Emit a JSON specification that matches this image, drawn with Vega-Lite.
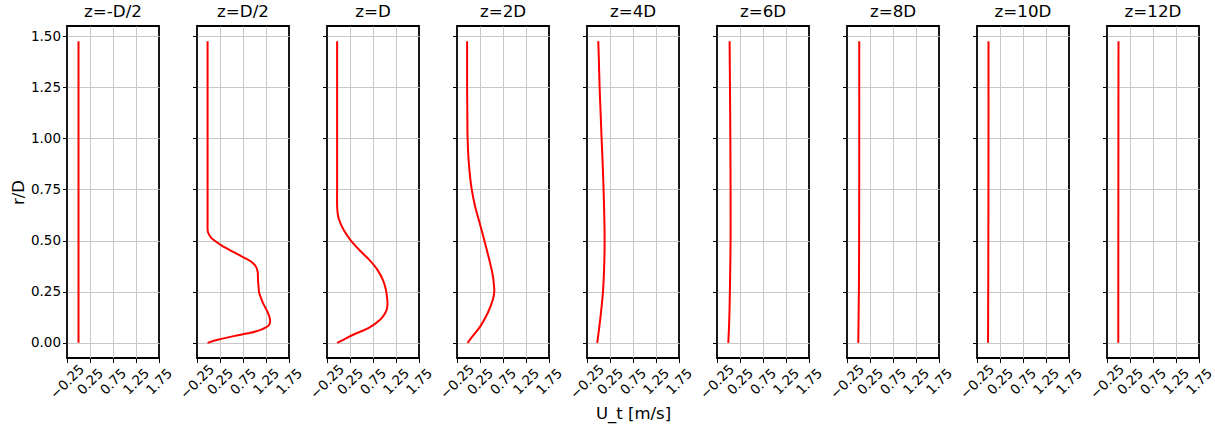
{
  "$schema": "https://vega.github.io/schema/vega-lite/v6.json",
  "padding": {"left": 9, "top": 3, "right": 0, "bottom": 0},
  "spacing": 38,
  "bounds": "flush",
  "data": {"values": [
    {"z": "z=-D/2", "r": 0, "U": 0}, {"z": "z=-D/2", "r": 0.5, "U": 0}, {"z": "z=-D/2", "r": 1.0, "U": 0}, {"z": "z=-D/2", "r": 1.475, "U": 0},

    {"z": "z=D/2", "r": 0, "U": -0.02}, {"z": "z=D/2", "r": 0.016, "U": 0.22}, {"z": "z=D/2", "r": 0.033, "U": 0.55},
    {"z": "z=D/2", "r": 0.049, "U": 0.91}, {"z": "z=D/2", "r": 0.066, "U": 1.16}, {"z": "z=D/2", "r": 0.085, "U": 1.31},
    {"z": "z=D/2", "r": 0.107, "U": 1.34}, {"z": "z=D/2", "r": 0.13, "U": 1.32}, {"z": "z=D/2", "r": 0.148, "U": 1.29},
    {"z": "z=D/2", "r": 0.175, "U": 1.23}, {"z": "z=D/2", "r": 0.197, "U": 1.18}, {"z": "z=D/2", "r": 0.22, "U": 1.14},
    {"z": "z=D/2", "r": 0.246, "U": 1.1}, {"z": "z=D/2", "r": 0.27, "U": 1.09}, {"z": "z=D/2", "r": 0.295, "U": 1.08},
    {"z": "z=D/2", "r": 0.32, "U": 1.075}, {"z": "z=D/2", "r": 0.344, "U": 1.07}, {"z": "z=D/2", "r": 0.369, "U": 1.04},
    {"z": "z=D/2", "r": 0.393, "U": 0.95}, {"z": "z=D/2", "r": 0.418, "U": 0.76}, {"z": "z=D/2", "r": 0.443, "U": 0.55},
    {"z": "z=D/2", "r": 0.475, "U": 0.29}, {"z": "z=D/2", "r": 0.5, "U": 0.13}, {"z": "z=D/2", "r": 0.516, "U": 0.05},
    {"z": "z=D/2", "r": 0.541, "U": -0.01}, {"z": "z=D/2", "r": 0.557, "U": -0.02}, {"z": "z=D/2", "r": 0.58, "U": -0.02},
    {"z": "z=D/2", "r": 0.75, "U": -0.02}, {"z": "z=D/2", "r": 1.0, "U": -0.02}, {"z": "z=D/2", "r": 1.25, "U": -0.02},
    {"z": "z=D/2", "r": 1.475, "U": -0.02},

    {"z": "z=D", "r": 0, "U": -0.03}, {"z": "z=D", "r": 0.016, "U": 0.11}, {"z": "z=D", "r": 0.041, "U": 0.33},
    {"z": "z=D", "r": 0.073, "U": 0.66}, {"z": "z=D", "r": 0.114, "U": 0.91}, {"z": "z=D", "r": 0.14, "U": 1.0},
    {"z": "z=D", "r": 0.163, "U": 1.05}, {"z": "z=D", "r": 0.19, "U": 1.065}, {"z": "z=D", "r": 0.212, "U": 1.06},
    {"z": "z=D", "r": 0.261, "U": 1.03}, {"z": "z=D", "r": 0.31, "U": 0.96}, {"z": "z=D", "r": 0.359, "U": 0.84},
    {"z": "z=D", "r": 0.408, "U": 0.66}, {"z": "z=D", "r": 0.457, "U": 0.44}, {"z": "z=D", "r": 0.5, "U": 0.27},
    {"z": "z=D", "r": 0.538, "U": 0.15}, {"z": "z=D", "r": 0.571, "U": 0.07}, {"z": "z=D", "r": 0.604, "U": 0.01},
    {"z": "z=D", "r": 0.636, "U": -0.02}, {"z": "z=D", "r": 0.67, "U": -0.03}, {"z": "z=D", "r": 0.75, "U": -0.03},
    {"z": "z=D", "r": 1.0, "U": -0.03}, {"z": "z=D", "r": 1.475, "U": -0.03},

    {"z": "z=2D", "r": 0, "U": -0.02}, {"z": "z=2D", "r": 0.033, "U": 0.09}, {"z": "z=2D", "r": 0.082, "U": 0.26},
    {"z": "z=2D", "r": 0.147, "U": 0.42}, {"z": "z=2D", "r": 0.212, "U": 0.53}, {"z": "z=2D", "r": 0.25, "U": 0.56},
    {"z": "z=2D", "r": 0.29, "U": 0.55}, {"z": "z=2D", "r": 0.327, "U": 0.53}, {"z": "z=2D", "r": 0.408, "U": 0.45},
    {"z": "z=2D", "r": 0.5, "U": 0.345}, {"z": "z=2D", "r": 0.588, "U": 0.24}, {"z": "z=2D", "r": 0.67, "U": 0.14},
    {"z": "z=2D", "r": 0.75, "U": 0.07}, {"z": "z=2D", "r": 0.8, "U": 0.04}, {"z": "z=2D", "r": 0.9, "U": 0.0},
    {"z": "z=2D", "r": 1.0, "U": -0.02}, {"z": "z=2D", "r": 1.1, "U": -0.025}, {"z": "z=2D", "r": 1.25, "U": -0.03},
    {"z": "z=2D", "r": 1.475, "U": -0.03},

    {"z": "z=4D", "r": 0, "U": -0.027}, {"z": "z=4D", "r": 0.132, "U": 0.046}, {"z": "z=4D", "r": 0.25, "U": 0.097},
    {"z": "z=4D", "r": 0.392, "U": 0.126}, {"z": "z=4D", "r": 0.5, "U": 0.133}, {"z": "z=4D", "r": 0.62, "U": 0.126},
    {"z": "z=4D", "r": 0.75, "U": 0.11}, {"z": "z=4D", "r": 0.88, "U": 0.09}, {"z": "z=4D", "r": 1.0, "U": 0.067},
    {"z": "z=4D", "r": 1.124, "U": 0.046}, {"z": "z=4D", "r": 1.25, "U": 0.024}, {"z": "z=4D", "r": 1.367, "U": 0.01},
    {"z": "z=4D", "r": 1.475, "U": -0.005},

    {"z": "z=6D", "r": 0, "U": -0.005}, {"z": "z=6D", "r": 0.1, "U": 0.015}, {"z": "z=6D", "r": 0.25, "U": 0.03},
    {"z": "z=6D", "r": 0.5, "U": 0.045}, {"z": "z=6D", "r": 0.75, "U": 0.045}, {"z": "z=6D", "r": 1.0, "U": 0.04},
    {"z": "z=6D", "r": 1.25, "U": 0.032}, {"z": "z=6D", "r": 1.475, "U": 0.024},

    {"z": "z=8D", "r": 0, "U": -0.005}, {"z": "z=8D", "r": 0.25, "U": 0.008}, {"z": "z=8D", "r": 0.5, "U": 0.014},
    {"z": "z=8D", "r": 1.0, "U": 0.016}, {"z": "z=8D", "r": 1.475, "U": 0.016},

    {"z": "z=10D", "r": 0, "U": -0.01}, {"z": "z=10D", "r": 0.5, "U": -0.003}, {"z": "z=10D", "r": 1.0, "U": 0.0},
    {"z": "z=10D", "r": 1.475, "U": 0.0},

    {"z": "z=12D", "r": 0, "U": -0.005}, {"z": "z=12D", "r": 0.75, "U": -0.003}, {"z": "z=12D", "r": 1.475, "U": 0.0}
  ]},
  "hconcat": [
    {"width": 92, "height": 332, "title": "z=-D/2", "transform": [{"filter": "datum.z == 'z=-D/2'"}],
     "mark": {"type": "line", "color": "#ff0000", "strokeWidth": 2, "interpolate": "catmull-rom"},
     "encoding": {
       "x": {"field": "U", "type": "quantitative", "scale": {"domain": [-0.25, 1.75], "nice": false, "zero": false}, "axis": {"values": [-0.25, 0.25, 0.75, 1.25, 1.75], "format": ".2f", "title": null, "gridOpacity": {"condition": {"test": "datum.value < 0 || datum.value > 1.5", "value": 0}, "value": 1}}},
       "y": {"field": "r", "type": "quantitative", "scale": {"domain": [-0.074, 1.549], "nice": false, "zero": false}, "axis": {"values": [0, 0.25, 0.5, 0.75, 1.0, 1.25, 1.5], "format": ".2f", "title": "r/D"}},
       "order": {"field": "r", "type": "quantitative"}}},
    {"width": 92, "height": 332, "title": "z=D/2", "transform": [{"filter": "datum.z == 'z=D/2'"}],
     "mark": {"type": "line", "color": "#ff0000", "strokeWidth": 2, "interpolate": "catmull-rom"},
     "encoding": {
       "x": {"field": "U", "type": "quantitative", "scale": {"domain": [-0.25, 1.75], "nice": false, "zero": false}, "axis": {"values": [-0.25, 0.25, 0.75, 1.25, 1.75], "format": ".2f", "title": null, "gridOpacity": {"condition": {"test": "datum.value < 0 || datum.value > 1.5", "value": 0}, "value": 1}}},
       "y": {"field": "r", "type": "quantitative", "scale": {"domain": [-0.074, 1.549], "nice": false, "zero": false}, "axis": {"values": [0, 0.25, 0.5, 0.75, 1.0, 1.25, 1.5], "labels": false, "title": null}},
       "order": {"field": "r", "type": "quantitative"}}},
    {"width": 92, "height": 332, "title": "z=D", "transform": [{"filter": "datum.z == 'z=D'"}],
     "mark": {"type": "line", "color": "#ff0000", "strokeWidth": 2, "interpolate": "catmull-rom"},
     "encoding": {
       "x": {"field": "U", "type": "quantitative", "scale": {"domain": [-0.25, 1.75], "nice": false, "zero": false}, "axis": {"values": [-0.25, 0.25, 0.75, 1.25, 1.75], "format": ".2f", "title": null, "gridOpacity": {"condition": {"test": "datum.value < 0 || datum.value > 1.5", "value": 0}, "value": 1}}},
       "y": {"field": "r", "type": "quantitative", "scale": {"domain": [-0.074, 1.549], "nice": false, "zero": false}, "axis": {"values": [0, 0.25, 0.5, 0.75, 1.0, 1.25, 1.5], "labels": false, "title": null}},
       "order": {"field": "r", "type": "quantitative"}}},
    {"width": 92, "height": 332, "title": "z=2D", "transform": [{"filter": "datum.z == 'z=2D'"}],
     "mark": {"type": "line", "color": "#ff0000", "strokeWidth": 2, "interpolate": "catmull-rom"},
     "encoding": {
       "x": {"field": "U", "type": "quantitative", "scale": {"domain": [-0.25, 1.75], "nice": false, "zero": false}, "axis": {"values": [-0.25, 0.25, 0.75, 1.25, 1.75], "format": ".2f", "title": null, "gridOpacity": {"condition": {"test": "datum.value < 0 || datum.value > 1.5", "value": 0}, "value": 1}}},
       "y": {"field": "r", "type": "quantitative", "scale": {"domain": [-0.074, 1.549], "nice": false, "zero": false}, "axis": {"values": [0, 0.25, 0.5, 0.75, 1.0, 1.25, 1.5], "labels": false, "title": null}},
       "order": {"field": "r", "type": "quantitative"}}},
    {"width": 92, "height": 332, "title": "z=4D", "transform": [{"filter": "datum.z == 'z=4D'"}],
     "mark": {"type": "line", "color": "#ff0000", "strokeWidth": 2, "interpolate": "catmull-rom"},
     "encoding": {
       "x": {"field": "U", "type": "quantitative", "scale": {"domain": [-0.25, 1.75], "nice": false, "zero": false}, "axis": {"values": [-0.25, 0.25, 0.75, 1.25, 1.75], "format": ".2f", "title": "U_t [m/s]", "gridOpacity": {"condition": {"test": "datum.value < 0 || datum.value > 1.5", "value": 0}, "value": 1}}},
       "y": {"field": "r", "type": "quantitative", "scale": {"domain": [-0.074, 1.549], "nice": false, "zero": false}, "axis": {"values": [0, 0.25, 0.5, 0.75, 1.0, 1.25, 1.5], "labels": false, "title": null}},
       "order": {"field": "r", "type": "quantitative"}}},
    {"width": 92, "height": 332, "title": "z=6D", "transform": [{"filter": "datum.z == 'z=6D'"}],
     "mark": {"type": "line", "color": "#ff0000", "strokeWidth": 2, "interpolate": "catmull-rom"},
     "encoding": {
       "x": {"field": "U", "type": "quantitative", "scale": {"domain": [-0.25, 1.75], "nice": false, "zero": false}, "axis": {"values": [-0.25, 0.25, 0.75, 1.25, 1.75], "format": ".2f", "title": null, "gridOpacity": {"condition": {"test": "datum.value < 0 || datum.value > 1.5", "value": 0}, "value": 1}}},
       "y": {"field": "r", "type": "quantitative", "scale": {"domain": [-0.074, 1.549], "nice": false, "zero": false}, "axis": {"values": [0, 0.25, 0.5, 0.75, 1.0, 1.25, 1.5], "labels": false, "title": null}},
       "order": {"field": "r", "type": "quantitative"}}},
    {"width": 92, "height": 332, "title": "z=8D", "transform": [{"filter": "datum.z == 'z=8D'"}],
     "mark": {"type": "line", "color": "#ff0000", "strokeWidth": 2, "interpolate": "catmull-rom"},
     "encoding": {
       "x": {"field": "U", "type": "quantitative", "scale": {"domain": [-0.25, 1.75], "nice": false, "zero": false}, "axis": {"values": [-0.25, 0.25, 0.75, 1.25, 1.75], "format": ".2f", "title": null, "gridOpacity": {"condition": {"test": "datum.value < 0 || datum.value > 1.5", "value": 0}, "value": 1}}},
       "y": {"field": "r", "type": "quantitative", "scale": {"domain": [-0.074, 1.549], "nice": false, "zero": false}, "axis": {"values": [0, 0.25, 0.5, 0.75, 1.0, 1.25, 1.5], "labels": false, "title": null}},
       "order": {"field": "r", "type": "quantitative"}}},
    {"width": 92, "height": 332, "title": "z=10D", "transform": [{"filter": "datum.z == 'z=10D'"}],
     "mark": {"type": "line", "color": "#ff0000", "strokeWidth": 2, "interpolate": "catmull-rom"},
     "encoding": {
       "x": {"field": "U", "type": "quantitative", "scale": {"domain": [-0.25, 1.75], "nice": false, "zero": false}, "axis": {"values": [-0.25, 0.25, 0.75, 1.25, 1.75], "format": ".2f", "title": null, "gridOpacity": {"condition": {"test": "datum.value < 0 || datum.value > 1.5", "value": 0}, "value": 1}}},
       "y": {"field": "r", "type": "quantitative", "scale": {"domain": [-0.074, 1.549], "nice": false, "zero": false}, "axis": {"values": [0, 0.25, 0.5, 0.75, 1.0, 1.25, 1.5], "labels": false, "title": null}},
       "order": {"field": "r", "type": "quantitative"}}},
    {"width": 92, "height": 332, "title": "z=12D", "transform": [{"filter": "datum.z == 'z=12D'"}],
     "mark": {"type": "line", "color": "#ff0000", "strokeWidth": 2, "interpolate": "catmull-rom"},
     "encoding": {
       "x": {"field": "U", "type": "quantitative", "scale": {"domain": [-0.25, 1.75], "nice": false, "zero": false}, "axis": {"values": [-0.25, 0.25, 0.75, 1.25, 1.75], "format": ".2f", "title": null, "gridOpacity": {"condition": {"test": "datum.value < 0 || datum.value > 1.5", "value": 0}, "value": 1}}},
       "y": {"field": "r", "type": "quantitative", "scale": {"domain": [-0.074, 1.549], "nice": false, "zero": false}, "axis": {"values": [0, 0.25, 0.5, 0.75, 1.0, 1.25, 1.5], "labels": false, "title": null}},
       "order": {"field": "r", "type": "quantitative"}}}
  ],
  "config": {
    "font": "DejaVu Sans",
    "background": "white",
    "view": {"stroke": "black", "strokeWidth": 1.8},
    "axis": {"domain": false, "grid": true, "gridColor": "#c8c8c8", "gridWidth": 1, "tickColor": "black", "tickSize": 4.5, "tickWidth": 1,
             "labelFont": "DejaVu Sans", "labelFontSize": 13.5, "labelColor": "black", "labelFlush": false, "labelOverlap": false,
             "titleFont": "DejaVu Sans", "titleFontSize": 16.5, "titleFontWeight": "normal", "titleColor": "black"},
    "axisX": {"labelAngle": -45, "labelAlign": "center", "labelBaseline": "middle", "labelPadding": 19, "titlePadding": 5},
    "axisY": {"labelPadding": 2, "titlePadding": 4},
    "title": {"font": "DejaVu Sans", "fontSize": 16.7, "fontWeight": "normal", "color": "black", "anchor": "middle", "frame": "group", "baseline": "alphabetic", "offset": 5}
  }
}
